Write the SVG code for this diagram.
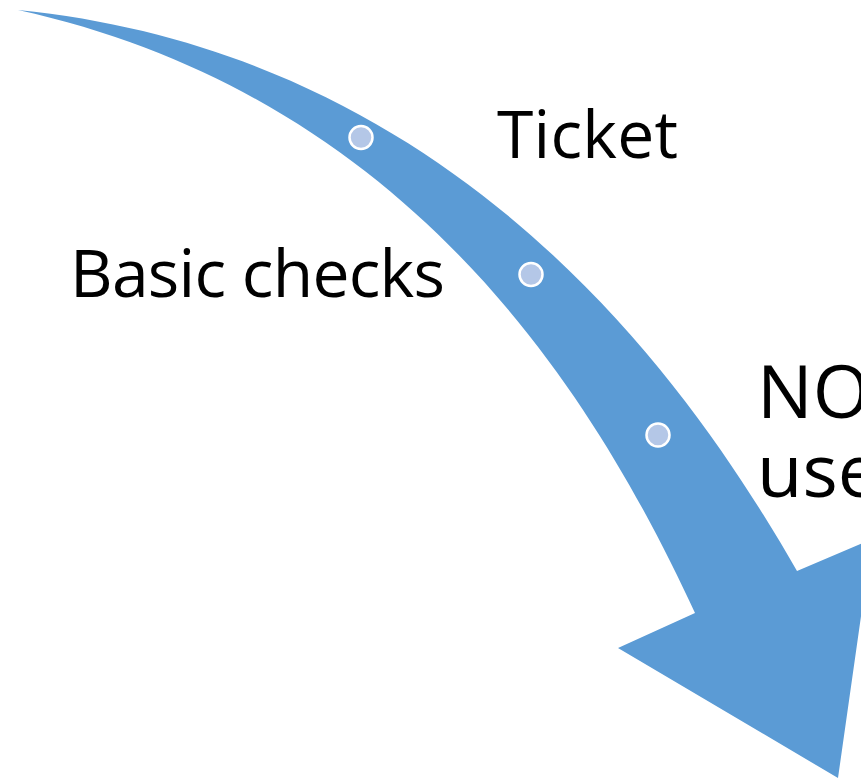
<svg xmlns="http://www.w3.org/2000/svg" width="861" height="779" viewBox="0 0 861 779">
<style>
.lbl{font-family:"Open Sans","Liberation Sans",sans-serif;fill:#000}
.dot{fill:#B4C7E7;stroke:#fff;stroke-width:2.5}
</style>
<rect width="861" height="779" fill="#fff"/>
<g id="connectors">
<path id="arrow" d="M18,10 C468,55 697,397 797,571 L872,539 L838,778 L618,648 L695,613 C600,408 418,98 18,10 Z" fill="#5B9BD5"/>
</g>
<g id="dot1"><circle class="dot" cx="361" cy="137.5" r="11.5"/></g>
<g id="dot2"><circle class="dot" cx="531" cy="274.5" r="11.5"/></g>
<g id="dot3"><circle class="dot" cx="658" cy="435" r="11.5"/></g>
<g id="ticket"><text class="lbl" x="497" y="158" font-size="66" textLength="181">Ticket</text></g>
<g id="basic"><text class="lbl" x="70" y="297" font-size="66" textLength="375">Basic checks</text></g>
<g id="note"><text class="lbl" x="757" y="418" font-size="74">NO</text><text class="lbl" x="757" y="497" font-size="74">use</text></g>
</svg>
